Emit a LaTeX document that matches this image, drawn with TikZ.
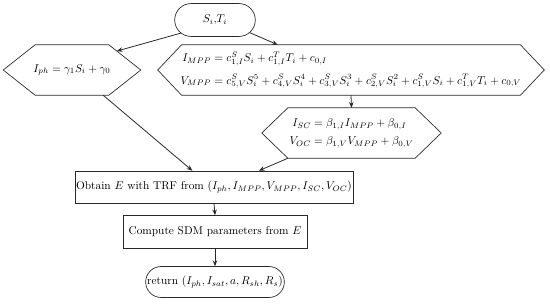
\documentclass[tikz,border=0pt]{standalone}
\usepackage{amsmath,amssymb}
\usepackage{xcolor}
\usetikzlibrary{arrows.meta,calc,shapes.misc}
\definecolor{figline}{RGB}{40,40,40}
\tikzset{
  term/.style ={rounded rectangle, draw=figline, line width=0.6pt, inner sep=1pt},
  hexa/.style ={rectangle, minimum height=1.55cm, inner sep=1pt},
  hexline/.style={draw=figline, line width=0.6pt, line join=miter},
  proc/.style ={rectangle, draw=figline, line width=0.6pt, inner sep=1pt},
  ptr/.style  ={draw=figline, line width=0.7pt, -{Stealth[length=5pt,width=4pt]}},
}

\begin{document}
\begin{tikzpicture}[scale=1]
  \useasboundingbox (0,0) rectangle (17.05,9.455);
  % terminals, decisions, steps
  \node[term, minimum width=2.57cm, minimum height=1.02cm] (start) at (6.665,8.835) {$S_i$,$T_i$};
  \node[hexa, minimum width=4.25cm] (iph) at (2.232,7.285)
    {$I_{ph} = \gamma_1 S_i + \gamma_0$};
  \node[hexa, minimum width=11.97cm] (mpp) at (10.881,7.285)
    {$\begin{aligned}
      I_{MPP} &= c^S_{1,I} S_i + c^T_{1,I} T_i + c_{0,I}\\[3pt]
      V_{MPP} &= c^S_{5,V} S_i^5 + c^S_{4,V} S_i^4 + c^S_{3,V} S_i^3 + c^S_{2,V} S_i^2 + c^S_{1,V} S_i + c^T_{1,V} T_i + c_{0,V}
    \end{aligned}$};
  \node[hexa, minimum width=5.55cm] (scoc) at (10.897,5.332)
    {$\begin{aligned}
      I_{SC} &= \beta_{1,I} I_{MPP} + \beta_{0,I}\\[1pt]
      V_{OC} &= \beta_{1,V} V_{MPP} + \beta_{0,V}
    \end{aligned}$};
  \node[proc, minimum width=8.25cm, minimum height=0.99cm] (trf) at (6.634,3.658)
    {Obtain $E$ with TRF from $(I_{ph}, I_{MPP}, V_{MPP}, I_{SC}, V_{OC})$};
  \node[proc, minimum width=5.70cm, minimum height=1.02cm] (sdm) at (6.665,2.263)
    {Compute SDM parameters from $E$};
  \node[term, minimum width=4.37cm, minimum height=0.96cm] (ret) at (6.665,0.713)
    {return $(I_{ph}, I_{sat}, a, R_{sh}, R_s)$};
  % hexagon outlines
  \foreach \n/\d in {iph/0.99, mpp/0.74, scoc/0.81} {
    \coordinate (\n-nw) at ([xshift=\d cm]\n.north west);
    \coordinate (\n-ne) at ([xshift=-\d cm]\n.north east);
    \coordinate (\n-se) at ([xshift=-\d cm]\n.south east);
    \coordinate (\n-sw) at ([xshift=\d cm]\n.south west);
    \draw[hexline] (\n.west) -- (\n-nw) -- (\n-ne) -- (\n.east) -- (\n-se) -- (\n-sw) -- cycle;
  }
  % connectors
  \draw[ptr] (start.201) -- ($(iph-ne)!0.25!(iph.east)$);
  \draw[ptr] (start.-20) -- (mpp.161);
  \draw[ptr] (mpp.south) -- (scoc.north);
  \draw[ptr] (iph.-39) -- (trf.143);
  \draw[ptr] (scoc-sw) -- (trf.20);
  \draw[ptr] (trf.south) -- (sdm.north);
  \draw[ptr] (sdm.south) -- (ret.north);
\end{tikzpicture}
\end{document}
